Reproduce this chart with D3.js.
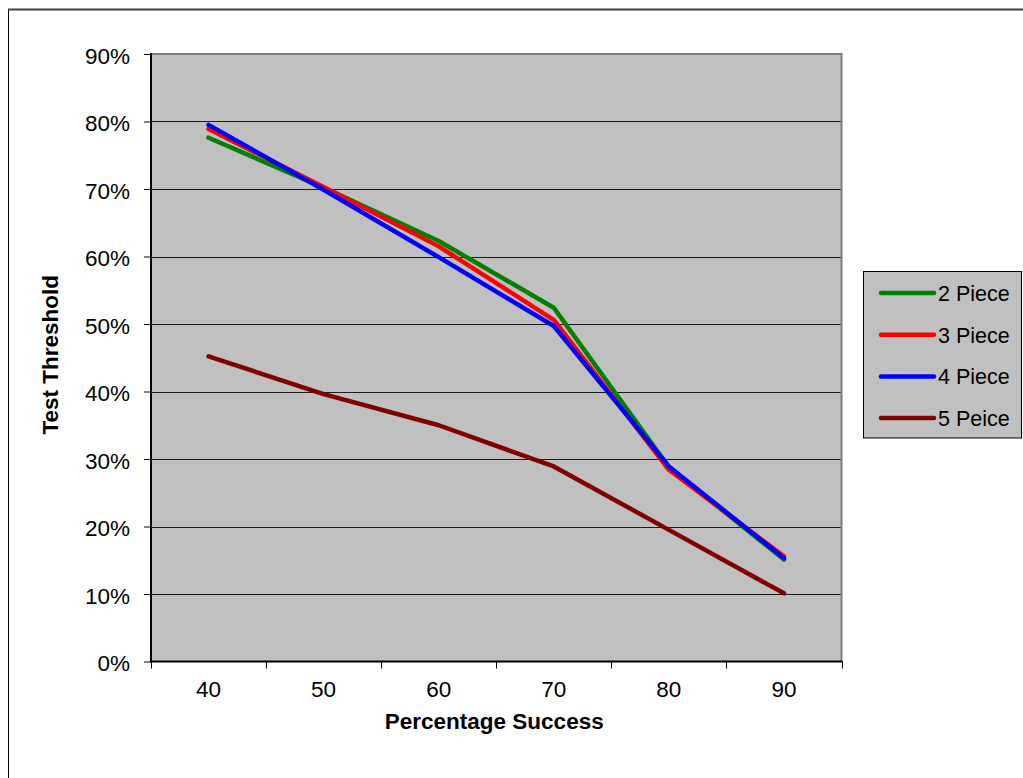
<!DOCTYPE html>
<html><head><meta charset="utf-8">
<script src="https://cdn.jsdelivr.net/npm/d3@7"></script>
<style>html,body{margin:0;padding:0;background:#fff;}svg{display:block;font-family:Arial,"Liberation Sans",sans-serif;}</style>
</head><body>
<svg id="chart" width="1023" height="778"></svg>
<script>
const categories = [40, 50, 60, 70, 80, 90];
const seriesNames = ["2 Piece", "3 Piece", "4 Piece", "5 Peice"];
const piece2 = [0.776, 0.702, 0.623, 0.524, 0.288, 0.151];
const piece3 = [0.789, 0.703, 0.615, 0.506, 0.284, 0.156];
const piece4 = [0.795, 0.699, 0.599, 0.497, 0.289, 0.153];
const piece5 = [0.452, 0.396, 0.350, 0.289, 0.195, 0.101];
const yTicks = [0, 0.1, 0.2, 0.3, 0.4, 0.5, 0.6, 0.7, 0.8, 0.9];
const colors = ["#008000", "#FF0000", "#0000FF", "#800000"];
const seriesValues = [piece2, piece3, piece4, piece5];

const svg = d3.select("#chart");
const L = 151, R = 841.5, T = 54, B = 661.5;
const FONT = "Arial, 'Liberation Sans', sans-serif";

// outer chart border
svg.append("rect").attr("x", 8.5).attr("y", 9.5).attr("width", 1040).attr("height", 800)
  .attr("fill", "#fff").attr("stroke", "#000").attr("stroke-width", 1);
svg.append("line").attr("x1", 8).attr("x2", 1023).attr("y1", 9.5).attr("y2", 9.5)
  .attr("stroke", "#404040").attr("stroke-width", 2);

const x = d3.scaleBand().domain(categories).range([L, R]);
const y = d3.scaleLinear().domain([0, 0.9]).range([B, T]);

// plot background
svg.append("rect").attr("x", L).attr("y", T).attr("width", R - L).attr("height", B - T)
  .attr("fill", "#C0C0C0");

// gridlines
svg.append("g").selectAll("line").data(yTicks.filter(d => d > 0 && d < 0.9)).join("line")
  .attr("x1", L).attr("x2", R)
  .attr("y1", d => Math.round(y(d)) + 0.5).attr("y2", d => Math.round(y(d)) + 0.5)
  .attr("stroke", "#000").attr("stroke-width", 1).attr("opacity", 0.85);

// plot border top/right (gray)
svg.append("line").attr("x1", L).attr("x2", R + 1).attr("y1", T).attr("y2", T)
  .attr("stroke", "#808080").attr("stroke-width", 2);
svg.append("line").attr("x1", R).attr("x2", R).attr("y1", T).attr("y2", B)
  .attr("stroke", "#808080").attr("stroke-width", 2);

// Y axis
const yAxis = d3.axisLeft(y).tickValues(yTicks).tickFormat(d3.format(".0%")).tickSize(7).tickPadding(14);
const gy = svg.append("g").attr("transform", `translate(${L},0)`).call(yAxis);
gy.select(".domain").remove();
gy.selectAll(".tick line").attr("stroke", "#000");
gy.selectAll(".tick text").attr("font-size", 22.5).attr("fill", "#000").attr("font-family", FONT).attr("dy", "0.42em");
svg.append("line").attr("x1", L).attr("x2", L).attr("y1", T - 1).attr("y2", B + 1)
  .attr("stroke", "#000").attr("stroke-width", 2);

// X axis
const xAxis = d3.axisBottom(x).tickSize(0).tickPadding(0);
const gx = svg.append("g").attr("transform", `translate(0,${B})`).call(xAxis);
gx.select(".domain").remove();
gx.selectAll(".tick text").attr("font-size", 22.5).attr("fill", "#000").attr("font-family", FONT).attr("y", 35.5).attr("dy", 0);
// category boundary ticks
const bounds = categories.map(c => x(c)).concat([x(categories[categories.length - 1]) + x.bandwidth()]);
svg.append("g").selectAll("line").data(bounds).join("line")
  .attr("x1", d => Math.round(d) + 0.5).attr("x2", d => Math.round(d) + 0.5)
  .attr("y1", B).attr("y2", B + 7).attr("stroke", "#000");
svg.append("line").attr("x1", L - 1).attr("x2", R + 1).attr("y1", B).attr("y2", B)
  .attr("stroke", "#000").attr("stroke-width", 2);

// lines
const line = d3.line().x((d, i) => x(categories[i]) + x.bandwidth() / 2).y(d => y(d));
svg.append("g").selectAll("path").data(seriesValues).join("path")
  .attr("d", d => line(d)).attr("fill", "none")
  .attr("stroke", (d, i) => colors[i]).attr("stroke-width", 4.5)
  .attr("stroke-linejoin", "round").attr("stroke-linecap", "round");

// axis titles
svg.append("text").attr("x", (L + R) / 2 - 2).attr("y", 729).attr("text-anchor", "middle")
  .attr("font-size", 22.5).attr("font-weight", "bold").attr("font-family", FONT).text("Percentage Success");
svg.append("text").attr("transform", `translate(58,${(T + B) / 2 - 3}) rotate(-90)`).attr("text-anchor", "middle")
  .attr("font-size", 22.5).attr("font-weight", "bold").attr("font-family", FONT).text("Test Threshold");

// legend
const lg = svg.append("g");
lg.append("rect").attr("x", 863.5).attr("y", 271.5).attr("width", 158).attr("height", 166.5)
  .attr("fill", "#C0C0C0").attr("stroke", "#000").attr("stroke-width", 1);
const rows = lg.selectAll("g.row").data(seriesNames).join("g").attr("class", "row")
  .attr("transform", (d, i) => `translate(0,${293 + i * 41.7})`);
rows.append("line").attr("x1", 881).attr("x2", 934).attr("y1", 0).attr("y2", 0)
  .attr("stroke", (d, i) => colors[i]).attr("stroke-width", 4.5).attr("stroke-linecap", "round");
rows.append("text").attr("x", 938).attr("y", 0).attr("dy", "0.37em").attr("font-size", 21.5)
  .attr("font-family", FONT).text(d => d);
</script>
</body></html>
